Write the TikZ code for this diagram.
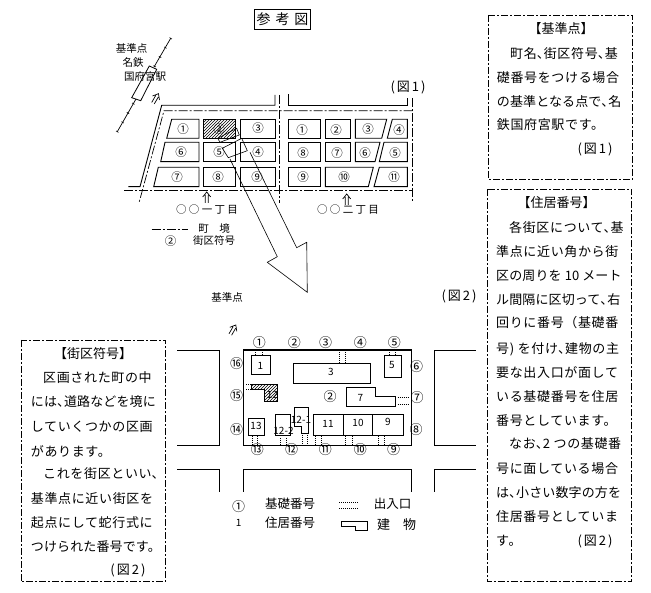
\documentclass[tikz,border=0pt]{standalone}
\usepackage{fontspec}
\usetikzlibrary{patterns,calc}
\setmainfont{Noto Sans CJK JP}
\newfontfamily\bodyf[LetterSpace=5]{Noto Sans CJK JP}
\newfontfamily\tightf[LetterSpace=1]{Noto Sans CJK JP}
\newcounter{tn}
\tikzset{
 txt/.style={inner sep=0pt,font=\fontsize{#1}{#1}\selectfont},
 boxline/.style={line width=.8pt,dash pattern=on 7pt off 2pt on 2pt off 2pt},
 bord/.style={line width=.7pt,dash pattern=on 9pt off 2pt on 2pt off 2pt},
 road/.style={line width=.9pt},
 blk/.style={line width=.9pt},
 bldg/.style={line width=.9pt},
 ent/.style={line width=.7pt,dash pattern=on 1pt off 1pt},
 hatch/.style={pattern=north east lines},
 arrowline/.style={line width=.6pt},
}
% narrow comma
\newcommand{\tc}{\makebox[7pt][l]{、}}
% body-text line, left aligned
\newcommand{\tl}[3]{\stepcounter{tn}\node[inner sep=0pt,anchor=west,font=\fontsize{13}{13}\bodyf] (b\thetn) at (#1,#2) {#3};}
% the same, for lines of ten characters
\newcommand{\tlt}[3]{\stepcounter{tn}\node[inner sep=0pt,anchor=west,font=\fontsize{13}{13}\tightf] (b\thetn) at (#1,#2) {#3};}
% centred text
\newcommand{\ct}[4]{\stepcounter{tn}\node[txt=#1] (c\thetn) at (#2,#3) {#4};}
% figure reference
\newcommand{\zu}[1]{(\hspace{2pt}図\hspace{2pt}#1\hspace{2pt})}
% hollow double arrow
\newcommand{\dbl}[3]{\begin{scope}[shift={(#1,#2)},rotate=#3,line width=.7pt]
 \draw (-1.5,6) -- (-1.5,-2) (1.5,6) -- (1.5,-2) (-4,0) -- (0,-5) -- (4,0);\end{scope}}
\begin{document}
\begin{tikzpicture}[x=1pt,y=-1pt]
\useasboundingbox (0,0) rectangle (651,593);
\fill[white] (0,0) rectangle (651,593);
% title
\node[draw,line width=.8pt,minimum width=56.5pt,minimum height=19.5pt,inner sep=0pt,font=\fontsize{14}{14}\selectfont] (title) at (282.5,19.2) {参\hspace{5pt}考\hspace{5pt}図};
% fig 1 station
\draw[line width=.7pt] (170.7,38.3) -- (154,67) (136,99) -- (117.3,131.7);
\foreach \t in {0,.1,.2,.3,.7,.8,.9,1}{\draw[line width=.6pt] ($(170.7,38.3)!\t!(117.3,131.7)$)++(-1.2,-.7) -- ++(2.4,1.4);}
\draw[line width=.8pt] (149.3,66) -- (156.7,69.3) -- (140.7,100.7) -- (131.7,97.7) -- cycle;
\ct{10.5}{131.5}{48}{基準点}
\ct{10.5}{133}{63}{名鉄}
\ct{10.5}{145}{77}{国府宮駅}
\ct{13}{408}{87}{\zu{1}}
\dbl{156}{98}{-30}
% fig 1 roads
\draw[road] (275,95) -- (275,105.3) -- (161.7,105.3) -- (140,186.7) -- (128.3,186.7);
\draw[road] (288.3,94.3) -- (288.3,105.3) -- (407.3,105.3) -- (407.3,98.3);
\draw[bord] (412.7,110.7) -- (164,110.7) -- (139.3,201.7);
\draw[bord] (124,190.7) -- (412.7,190.7);
\draw[bord] (279.3,95) -- (279.3,202.7);
\draw[bord] (412.7,98) -- (412.7,202.7);
% fig 1 blocks
\draw[blk] (171.7,119.3) -- (199,119.3) -- (199,138.3) -- (166.7,138.3) -- cycle;
\draw[blk,hatch] (203.3,119.3) rectangle (235.7,138.3);
\draw[blk] (240.3,119.3) rectangle (275,138.3);
\draw[blk] (165,142.3) -- (199,142.3) -- (199,161.7) -- (160.7,161.7) -- cycle;
\draw[blk] (203.3,142.3) rectangle (235.7,161.7);
\draw[blk] (240.3,142.3) rectangle (275,161.7);
\draw[blk] (158.3,167.3) -- (199,167.3) -- (199,186.7) -- (153.7,186.7) -- cycle;
\draw[blk] (203.3,167.3) rectangle (235.7,186.7);
\draw[blk] (240.3,167.3) rectangle (275,186.7);
\draw[blk] (288.3,119.3) rectangle (320,138.3);
\draw[blk] (325.3,119.3) rectangle (350,138.3);
\draw[blk] (355.3,119.3) -- (386.7,119.3) -- (381.7,138.3) -- (355.3,138.3) -- cycle;
\draw[blk] (392.3,119.3) -- (407.3,119.3) -- (407.3,138.3) -- (387.3,138.3) -- cycle;
\draw[blk] (288.3,142.3) rectangle (320,161.7);
\draw[blk] (325.3,142.3) rectangle (350,161.7);
\draw[blk] (355.3,142.3) -- (380,142.3) -- (375,161.7) -- (355.3,161.7) -- cycle;
\draw[blk] (384,142.3) -- (407.3,142.3) -- (407.3,161.7) -- (379.3,161.7) -- cycle;
\draw[blk] (288.3,167.3) rectangle (320,186.7);
\draw[blk] (325.3,167.3) -- (373.3,167.3) -- (368.3,186.7) -- (325.3,186.7) -- cycle;
\draw[blk] (379.3,167.3) -- (407.3,167.3) -- (407.3,186.7) -- (374,186.7) -- cycle;
% block numbers
\foreach \n/\x/\y in {①/183/129,②/219/129,③/258/128,⑥/181/152,⑤/219/152,④/258/152,⑦/177/177,⑧/218/177,⑨/257/177,①/302/130,②/336/130,③/368/129,④/399/130,⑧/303/153,⑦/337/153,⑥/365/153,⑤/395/153,⑨/303/177,⑩/344/177,⑪/394/177}{
  \stepcounter{tn}\node[txt=11.5] (n\thetn) at (\x,\y) {\n};}
\dbl{206.7}{197}{0}
\dbl{346.7}{199}{0}
\ct{10.5}{207}{210}{○ ○ 一 丁 目}
\ct{10.5}{348}{210}{○ ○ 二 丁 目}
\draw[bord] (151.7,229) -- (188,229);
\ct{10.5}{214}{229}{町　境}
\ct{11.5}{170.7}{240.7}{②}
\ct{10.5}{214}{240.7}{街区符号}
% big arrow
\draw[arrowline] (217.7,138.3) -- (236.7,128.3) -- (239.3,135) -- (220,142.3) -- cycle;
\draw[arrowline] (222.3,148.3) -- (241.7,138.3) -- (247.3,150.7) -- (228.3,157.7) -- cycle;
\draw[arrowline] (230,159) -- (277.3,256.7) -- (267.3,262.3) -- (307.3,292.3) -- (306.7,242.3) -- (296.7,247.7) -- (250,152.3);
% fig 2
\ct{10.5}{227}{297}{基準点}
\ct{13}{459}{296}{\zu{2}}
\dbl{233.3}{329.3}{-30}
\draw[road] (177.3,350.3) -- (219.3,350.3) -- (219.3,445) -- (177.3,445);
\draw[road] (475.7,350.3) -- (434.3,350.3) -- (434.3,445) -- (475.7,445);
\draw[road] (177.3,469.3) -- (219.3,469.3) -- (219.3,491.7);
\draw[road] (243.3,491.7) -- (243.3,469.3) -- (411.3,469.3) -- (411.3,491.7);
\draw[road] (475.7,469.3) -- (434.3,469.3) -- (434.3,491.7);
\draw[line width=1.1pt] (243.3,350) rectangle (411.3,445.7);
% buildings
\draw[bldg] (251.7,355.3) rectangle (270.7,374.3);
\draw[bldg] (384.3,355.3) rectangle (401.7,377.3);
\draw[bldg] (293.7,363.3) rectangle (370.7,383.3);
\draw[bldg] (346.7,387.3) -- (375.3,387.3) -- (375.3,396.7) -- (395.3,396.7) -- (395.3,406.3) -- (346.7,406.3) -- cycle;
\draw[bldg,hatch] (251.7,384.3) -- (277.7,384.3) -- (277.7,401.7) -- (264.3,401.7) -- (264.3,389.3) -- (251.7,389.3) -- cycle;
\draw[bldg] (248.3,418.3) rectangle (264,435.7);
\draw[bldg] (275.7,414.3) -- (290,414.3) -- (290,435.3) -- (275.7,435.3) -- cycle;
\draw[bldg] (294.3,407.3) -- (308.3,407.3) -- (308.3,433.3) -- (301,433.3) -- (301,426.7) -- (294.3,426.7) -- cycle;
\draw[bldg] (313.7,414.7) rectangle (343.7,435.3);
\draw[bldg] (343.7,414.7) rectangle (372.7,435.3);
\draw[bldg] (372.7,414.7) rectangle (403.3,435.3);
\foreach \t/\x/\y in {1/260.5/365.5,5/392/365,3/331/372,7/360.5/398,13/256/426,12-2/283.5/431,12-1/301/420,11/328/424,10/358/423,9/388/422,12/272.3/395}{
  \stepcounter{tn}\node[txt=10] (h\thetn) at (\x,\y) {\t};}
% entrances
\foreach \x/\a/\b in {255/350.5/355,262/350.5/355,339.3/352/363,345/352/363,389.3/350.5/355,395.7/350.5/355,252.3/436/445,257.7/436/445,280/438/445,286.7/438/445,302.3/433/445,307.7/433/445,315.7/436/445,321.7/436/445,345.7/436/445,352.3/436/445,378.3/436/445,384/436/445}{
  \draw[ent] (\x,\a) -- (\x,\b);}
\foreach \y/\a/\b in {397.7/397.7/409.3,404.3/397.7/409.3,384.3/246/251.7,389.3/246/251.7}{
  \draw[ent] (\a,\y) -- (\b,\y);}
\foreach \n/\x/\y in {①/259.3/342.3,②/294.3/342.3,③/325.7/342.3,④/360.3/342.3,⑤/394.3/342.3,⑥/416.7/366.7,⑦/417/397.3,⑧/416/430,⑨/393.7/450,⑩/360.3/450,⑪/325.3/450,⑫/291.7/450,⑬/257.3/450,⑭/236.7/429.7,⑮/236.7/396,⑯/236.7/364,②/330/396.3}{
  \stepcounter{tn}\node[txt=13] (k\thetn) at (\x,\y) {\n};}
% legend
\ct{13}{238.7}{506.7}{①}
\ct{12.5}{290}{504}{基礎番号}
\draw[ent] (339.3,502.7) -- (358.3,502.7) (339.3,508.3) -- (358.3,508.3);
\ct{12.5}{392.5}{504}{出入口}
\ct{10}{238.7}{523.3}{1}
\ct{12.5}{290}{523}{住居番号}
\draw[bldg] (341.7,521.7) -- (367.7,521.7) -- (367.7,530) -- (355,530) -- (355,526) -- (341.7,526) -- cycle;
\ct{13}{396.7}{525}{建　物}
% text boxes
\draw[boxline] (488.3,15) rectangle (632.7,179.3);
\draw[boxline] (487.3,189.3) rectangle (631.7,581.7);
\draw[boxline] (21,340) rectangle (165.7,581.7);
\ct{13}{561}{29}{【基準点】}
\tl{510}{53.3}{町名\tc 街区符号\tc 基}
\tl{496.7}{77.3}{礎番号をつける場合}
\tlt{496.7}{101.7}{の基準となる点で\tc 名}
\tl{496.7}{125}{鉄国府宮駅です。}
\ct{13}{595}{149}{\zu{1}}
\ct{13}{556.7}{202.7}{【住居番号】}
\tl{509}{227.7}{各街区について\tc 基}
\tl{496}{252}{準点に近い角から街}
\tlt{496}{276}{区の周りを 10 メート}
\tlt{496}{300}{ル間隔に区切って\tc 右}
\tl{496}{323}{回りに番号（基礎番}
\tl{496}{349}{号) を付け\tc 建物の主}
\tl{496}{373}{要な出入口が面して}
\tl{496}{397}{いる基礎番号を住居}
\tl{496}{421}{番号としています。}
\tl{509}{444}{なお\tc 2 つの基礎番}
\tl{496}{469}{号に面している場合}
\tlt{496}{493}{は\tc 小さい数字の方を}
\tl{496}{517}{住居番号としていま}
\tl{496}{541}{す。}
\ct{13}{595}{541}{\zu{2}}
\ct{13}{93}{354}{【街区符号】}
\tl{43}{378}{区画された町の中}
\tlt{30.7}{402}{には\tc 道路などを境に}
\tl{30.7}{427}{していくつかの区画}
\tl{30.7}{451}{があります。}
\tl{43}{474}{これを街区といい\tc}
\tl{30.7}{499}{基準点に近い街区を}
\tl{30.7}{523}{起点にして蛇行式に}
\tlt{30.7}{547}{つけられた番号です。}
\ct{13}{128}{570}{\zu{2}}
\end{tikzpicture}
\end{document}
